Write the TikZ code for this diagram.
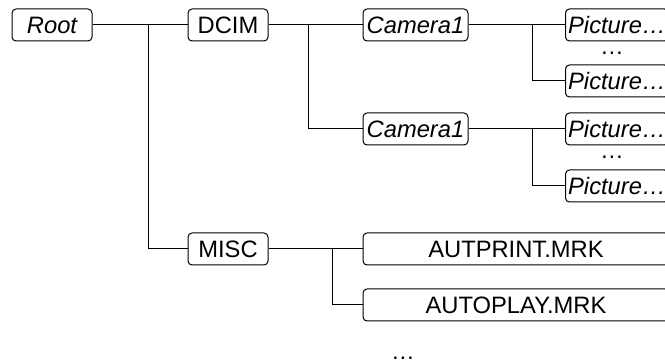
\documentclass[tikz,border=0pt]{standalone}
\usepackage{fontspec}
\setmainfont{Liberation Sans}
\begin{document}
\begin{tikzpicture}[x = 0.75pt, y = -0.75pt, line width = 0.75pt,
	font = \fontsize{17.8}{20}\selectfont,
	folder/.style = {draw, rounded corners = 3pt, minimum height = 24pt, inner sep = 2pt},
	file/.style = {folder, font = \fontsize{17.8}{20}\selectfont\itshape},
	dots/.style = {inner sep = 0pt, text height = 2pt, text depth = 0pt}]

\useasboundingbox (0,0) rectangle (665,363);

\node[file, minimum width = 60pt] (root) at (52, 25) {Root};
\node[folder, minimum width = 60pt] (dcim) at (228, 25) {DCIM};
\node[folder, minimum width = 60pt] (misc) at (228, 249) {MISC};

\foreach \y[count = \i] in {25, 129} {
	\node[file, minimum width = 78.75pt] (cam\i) at (415.5, \y) {Camera1};
}

\foreach \y[count = \i] in {25, 81, 129, 186} {
	\node[file, anchor = west] (pic\i) at (565, \y) {Picture…};
}

\node[folder, minimum width = 229.5pt] (autprint) at (516, 249) {AUTPRINT.MRK};
\node[folder, minimum width = 229.5pt] (autoplay) at (516, 305) {AUTOPLAY.MRK};

\node[dots] (picdots1) at (612, 53) {…};
\node[dots] (picdots2) at (612, 157) {…};
\node[dots] (miscdots) at (403, 358) {…};

\coordinate (rootsplit) at (148, 25);
\coordinate (dcimsplit) at (308, 25);
\coordinate (camsplit) at (532, 0);
\coordinate (miscsplit) at (332, 249);

\draw (root) -- (dcim);
\draw (rootsplit) |- (misc);

\draw (dcim) -- (cam1);
\draw (dcimsplit) |- (cam2);

\foreach \c/\a/\b in {1/1/2, 2/3/4} {
	\draw (cam\c) -- (pic\a);
	\draw (camsplit |- pic\a) |- (pic\b);
}

\draw (misc) -- (autprint);
\draw (miscsplit) |- (autoplay);

\end{tikzpicture}
\end{document}
